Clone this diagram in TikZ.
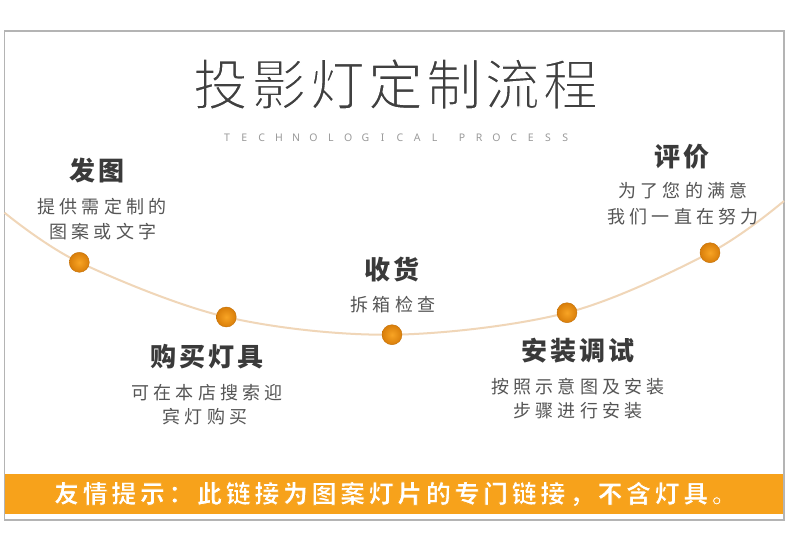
\documentclass[tikz,border=0pt]{standalone}
\usepackage{fontspec}
\newfontfamily\cjk{Noto Sans CJK SC}
\newfontfamily\latinsans{Noto Sans}
\definecolor{framec}{HTML}{B4B4B4}
\definecolor{barc}{HTML}{F7A21B}
\definecolor{titlec}{HTML}{404040}
\definecolor{headc}{HTML}{3A3A3A}
\definecolor{descc}{HTML}{555555}
\definecolor{subc}{HTML}{9A9A9A}
\definecolor{curvec}{HTML}{F0D6B8}
\definecolor{dotin}{HTML}{F8A424}
\definecolor{dotout}{HTML}{D97E0A}
\makeatletter
\newcommand\spaced[2]{{\def\sp@sep{}\@tfor\sp@c:=#2\do{\sp@sep\sp@c\def\sp@sep{\hspace{#1}}}}}
\makeatother
% thin glyphs by stroking their outline in the background colour
\newcommand\thinned[3]{\special{pdf:literal direct 2 Tr #1 w #2 RG}#3\special{pdf:literal direct 0 Tr 0.4 w}}
\tikzset{
  head/.style={inner sep=0pt, text=headc, font=\cjk\bfseries\fontsize{26}{30}\selectfont},
  desc/.style={inner sep=0pt, text=descc, font=\cjk\fontsize{18}{22}\selectfont},
  sub/.style={inner sep=0pt, text=subc, font=\latinsans\fontsize{10.5}{12}\selectfont},
  dotball/.style={circle, minimum size=20pt, inner sep=0pt, inner color=dotin, outer color=dotout, draw=dotout!90!black, line width=0.4pt},
  arcline/.style={draw=curvec, line width=2pt},
}
\begin{document}
\begin{tikzpicture}[x=1pt,y=-1pt]
\useasboundingbox (0,0) rectangle (790,549);
\fill[white] (0,0) rectangle (790,549);
% bottom bar and frame
\fill[barc] (4.5,474) rectangle (784,514);
\draw[framec, line width=1.2pt] (4.5,31) rectangle (784,520);
% title
\node[inner sep=0pt, text=titlec, font=\cjk\fontsize{55}{60}\selectfont] (title) at (395.5,84) {\thinned{1.4}{1 1 1}{\spaced{3.3pt}{投影灯定制流程}}};
\foreach \c [count=\i from 0] in {T,E,C,H,N,O,L,O,G,I,C,A,L}
  \node[sub] (s\i) at (227+17.3*\i,137.5) {\c};
\foreach \c [count=\i from 0] in {P,R,O,C,E,S,S}
  \node[sub] (p\i) at (462+17.2*\i,137.5) {\c};
% curve and dots
\coordinate (cl) at (4.5,212.7);
\coordinate (c1) at (79.3,262.3);
\coordinate (c2) at (226.3,317);
\coordinate (c3) at (392,334.7);
\coordinate (c4) at (567,312.7);
\coordinate (c5) at (710,252.7);
\coordinate (cr) at (784,201);
\draw[arcline] plot[smooth, tension=0.55] coordinates {(cl) (c1) (c2) (c3) (c4) (c5) (cr)};
\foreach \k in {1,...,5} \node[dotball] (n\k) at (c\k) {};
% step texts
\node[head] (h1) at (97,171) {\spaced{3pt}{发图}};
\node[desc] (d1a) at (102,207) {\spaced{4.2pt}{提供需定制的}};
\node[desc] (d1b) at (103,232) {\spaced{4.2pt}{图案或文字}};
\node[head] (h2) at (207,357) {\spaced{3pt}{购买灯具}};
\node[desc] (d2a) at (207,393) {\spaced{4.2pt}{可在本店搜索迎}};
\node[desc] (d2b) at (205,417) {\spaced{4.2pt}{宾灯购买}};
\node[head] (h3) at (392,270) {\spaced{3pt}{收货}};
\node[desc] (d3a) at (393,305) {\spaced{4.2pt}{拆箱检查}};
\node[head] (h4) at (578,351) {\spaced{3pt}{安装调试}};
\node[desc] (d4a) at (578,387) {\spaced{4.2pt}{按照示意图及安装}};
\node[desc] (d4b) at (578,411) {\spaced{4.2pt}{步骤进行安装}};
\node[head] (h5) at (682,157) {\spaced{3pt}{评价}};
\node[desc] (d5a) at (683,191) {\spaced{4.2pt}{为了您的满意}};
\node[desc] (d5b) at (683,217) {\spaced{4.2pt}{我们一直在努力}};
% footer
\node[inner sep=0pt, text=white, font=\cjk\bfseries\fontsize{25}{30}\selectfont] (tip) at (395.5,494) {\thinned{0.8}{0.969 0.635 0.106}{\spaced{3.6pt}{友情提示：此链接为图案灯片的专门链接，不含灯具。}}};
\end{tikzpicture}
\end{document}
